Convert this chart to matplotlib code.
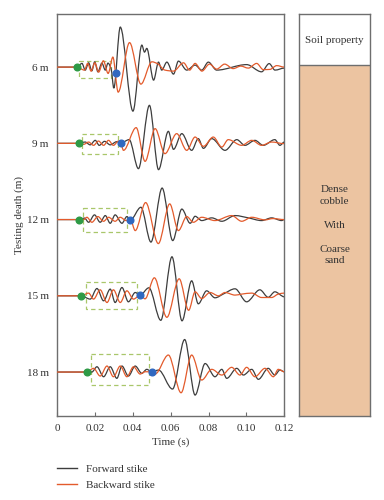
import matplotlib
matplotlib.use("Agg")
import matplotlib.pyplot as plt
from matplotlib.patches import Rectangle, PathPatch
from matplotlib.path import Path
from matplotlib.lines import Line2D

plt.rcParams['font.family'] = ['Liberation Serif', 'DejaVu Serif']
plt.rcParams['font.size'] = 8

# testing depths (m)
depths = [6, 9, 12, 15, 18]
depth_labels = ['6\u2009m', '9\u2009m', '12\u2009m', '15\u2009m', '18\u2009m']

# waveforms: time (ms), amplitude (arbitrary units)
# forward strike (black)
t6_fwd = [0, 10.5, 13.2, 14.9, 16.7, 18.4, 19.9, 21.6, 23.7, 25.5, 26.9, 28.6, 30.0, 33.4, 40.1, 44.8, 46.2, 47.4,
          51.0, 53.6, 55.3, 58.0, 61.5, 64.1, 68.5, 72.9, 76.4, 79.9, 84.3, 100.1, 108.0,
          112.0, 115.1, 120]
a6_fwd = [0, 0, 3.7, -3, 4.3, -3.7, 5.3, -4.7, 4, -3, 4, -2, -21, 40, -44, 22, 15, 18.7,
          -13, 5, -3, 5, -7, 6, -3, 2, -3, 5, -3, 2.5, -4.7,
          3.5, -3, -1]
t9_fwd = [0, 11.4, 14.9, 17.5, 20.2, 22.3, 25.1, 28.1, 31.6, 33.7, 38.1, 43.0, 48.8, 53.6, 58.8, 61.5, 65.9, 71.1,
          74.6, 77.3, 81.7, 88.7, 94.9, 99.2, 104.5, 108.9, 115.0, 117.7, 120]
a9_fwd = [0, 0, 1.3, -1.5, 3, -2, 2, -1.5, 1.7, 0.3, 3.7, -25.3, 38, -26.3, 12, -6, 9.7, -7,
          4.7, -5, 4.7, -7, 3.7, -2, 3, -2, 3.7, -2, 1.3]
t12_fwd = [0, 11.8, 14.5, 16.7, 19.8, 22.8, 25.5, 28.1, 30.7, 34.3, 36.9, 38.8, 44.3, 49.6, 55.5, 61.1, 65.9, 70.3,
           72.9, 76.4, 81.7, 87.0, 94.0, 101.0, 108.0, 113.3, 118.6, 120]
a12_fwd = [0, 0, 1.5, -2.7, 4.7, -2.7, 4, -3.7, 4.7, -3.7, 3, -0.3, 12.3, -22.5, 31.5, -21, 10.5, -3.7,
           3.3, -1, 1.7, -1.7, 4, 1.7, -1, 1.7, -1, 0]
t15_fwd = [0, 12.8, 17.5, 21.1, 24.6, 28.1, 30.7, 34.3, 37.7, 41.3, 43.9, 48.5, 54.8, 60.7, 66.0, 71.1, 74.6, 79.0,
           83.4, 88.0, 94.0, 100.1, 107.1, 111.5, 115.0, 120]
a15_fwd = [0, 0, -3.3, 7.3, -5, 6.7, -6.7, 8.3, -6, 3.3, 0.7, 8, -24.5, 39, -25, 15, -8, 5,
           -2, 2, 7, -6, 6, -1.5, 4, -1]
t18_fwd = [0, 15.8, 18.4, 21.1, 24.6, 28.1, 31.6, 34.3, 37.7, 41.3, 44.8, 47.4, 50.2, 53.6, 61.0, 67.4, 72.9, 78.2,
           83.4, 87.0, 89.6, 94.9, 98.4, 102.8, 106.3, 111.5, 115.0, 117.7, 120]
a18_fwd = [0, 0, 0, 5.3, -4.7, 5.3, -6.3, 6, -4, 6, -1.3, 2.7, 0, 2, -17, 32.5, -23, 8.5,
           -4.7, 2.7, -6.3, 3.7, -3, 2.7, -7.3, 3.7, -3, 2, 0.3]

# backward strike (orange)
t6_bwd = [0, 10.5, 14.5, 16.2, 18.0, 20.0, 22.0, 24.5, 27.0, 29.5, 32.3, 38.3, 44.3, 50.1, 53.0, 57.0, 61.5, 66.8,
          70.0, 72.9, 76.5, 80.5, 84.3, 88.5, 93.0, 97.0, 101.0, 105.4, 108.9, 112.4, 116.0, 120]
a6_bwd = [0, 0, -3, 3.7, -4, 4.3, -5, 6.3, -6.3, 10, -25, 24.5, -17, 5.3, 3.5, -3, -4, 4.3,
          -3, 3.7, -4, 3, -2, 3, -1.5, 1, -1, 3.7, -2.5, -2.3, 1.5, 0]
t9_bwd = [0, 11.4, 14.1, 16.7, 19.3, 21.9, 24.6, 27.2, 29.8, 32.5, 33.7, 35.1, 41.8, 46.5, 51.8, 57.0, 63.2, 68.5,
          72.9, 77.3, 82.5, 87.0, 90.4, 97.5, 102.8, 108.0, 113.3, 120]
a9_bwd = [0, 0, -1, 1.3, -2, 2.3, -2, 3, -2, 2.3, 0.3, -7, 15.7, -18, 14.7, -10.3, 9.7, -7,
          6.3, -3, 6.3, -3.7, 3.7, -2, 3, -2, 1.3, -0.3]
t12_bwd = [0, 11.8, 14.1, 15.8, 18.4, 21.6, 24.6, 27.2, 30.7, 33.4, 36.5, 38.8, 41.3, 46.8, 53.5, 59.5, 64.1, 68.5,
           72.0, 76.4, 83.4, 92.2, 97.5, 102.8, 109.8, 114.0, 120]
a12_bwd = [0, 0, 0, 2.3, -2.7, 3, -1.7, 2.3, -1.7, 2.3, -1, -0.3, -11, 17, -24, 15.7, -11, 3,
           -2.7, 2.3, -1, 4, -1.7, 2.3, -0.3, 1, 0]
t15_bwd = [0, 12.8, 16.7, 19.3, 22.8, 26.4, 29.8, 33.4, 36.9, 40.4, 43.9, 46.5, 51.4, 58.0, 64.5, 69.5, 72.9, 76.4,
           80.8, 85.2, 88.7, 94.0, 97.5, 102.8, 108.0, 113.3, 116.8, 120]
a15_bwd = [0, 0, 2.7, -3.3, 6, -6.7, 6, -6.7, 5, -3.3, 0.7, -3, 18, -21.5, 17, -14.5, 4, -2.7,
           3.3, 0, 3.3, 0.7, 1.7, 2.7, -1.7, -1.7, 1.7, 2.7]
t18_bwd = [0, 15.8, 19.3, 22.8, 26.4, 29.8, 33.4, 36.9, 40.4, 43.9, 46.5, 50.2, 51.8, 58.8, 65.5, 71.1, 76.4, 81.7,
           87.0, 92.2, 96.6, 100.1, 104.5, 109.8, 114.2, 116.8, 120]
a18_bwd = [0, 0, 3.7, -4, 6, -4.7, 6, -4.7, 5.3, -2, 0.3, 0, -2, 17, -20.7, 17, -8, 2.7,
           -3, 4.7, -3, 4.7, -4.7, 3.7, -4.7, 2.7, 0.3]

# picked arrivals (ms, amplitude)
green_t = [10.5, 11.4, 11.8, 12.8, 15.8]
green_a = [0, 0, 0, 0, 0]
blue_t = [31.1, 33.7, 38.8, 43.9, 50.2]
blue_a = [-6.3, 0.3, -0.3, 0.7, 0]

# dashed windows: start/end (ms), top/bottom (amplitude)
box_t0 = [11.8, 13.2, 13.7, 15.3, 17.9]
box_t1 = [28.6, 32.0, 37.2, 42.2, 48.6]
box_top = [6.3, 9.7, 11.7, 14.0, 17.7]
box_bot = [-10.7, -10.3, -12.0, -13.3, -13.3]

fwd_t = [t6_fwd, t9_fwd, t12_fwd, t15_fwd, t18_fwd]
fwd_a = [a6_fwd, a9_fwd, a12_fwd, a15_fwd, a18_fwd]
bwd_t = [t6_bwd, t9_bwd, t12_bwd, t15_bwd, t18_bwd]
bwd_a = [a6_bwd, a9_bwd, a12_bwd, a15_bwd, a18_bwd]

AMP_PER_M = 25.4   # amplitude units per metre of depth axis
c_fwd = '#3d3d3d'
c_bwd = '#e35b2c'
c_edge = '#6e6e6e'


def to_axes(depth, t, a):
    return (t / 1000, depth - a / AMP_PER_M)


def trace_path(depth, ts, amps):
    # smooth bezier through the read points (flat tangent at peaks)
    n = len(ts)
    d = [(amps[k + 1] - amps[k]) / (ts[k + 1] - ts[k]) for k in range(n - 1)]
    m = [0.0] * n
    for k in range(1, n - 1):
        if d[k - 1] * d[k] > 0:
            h0 = ts[k] - ts[k - 1]
            h1 = ts[k + 1] - ts[k]
            w1 = 2 * h1 + h0
            w2 = h1 + 2 * h0
            m[k] = (w1 + w2) / (w1 / d[k - 1] + w2 / d[k])
    verts = [to_axes(depth, ts[0], amps[0])]
    codes = [Path.MOVETO]
    for k in range(n - 1):
        h = ts[k + 1] - ts[k]
        verts.append(to_axes(depth, ts[k] + h / 3, amps[k] + m[k] * h / 3))
        verts.append(to_axes(depth, ts[k + 1] - h / 3, amps[k + 1] - m[k + 1] * h / 3))
        verts.append(to_axes(depth, ts[k + 1], amps[k + 1]))
        codes += [Path.CURVE4] * 3
    return Path(verts, codes)


fig = plt.figure(figsize=(3.84, 5.0), dpi=100)
ax = fig.add_axes([0.1484, 0.168, 0.592, 0.804])

for i, dep in enumerate(depths):
    x0 = box_t0[i] / 1000
    w = (box_t1[i] - box_t0[i]) / 1000
    y0 = dep - box_top[i] / AMP_PER_M
    h = (box_top[i] - box_bot[i]) / AMP_PER_M
    ax.add_patch(Rectangle((x0, y0), w, h, fill=False, ec='#a9c76a', lw=0.9, ls=(0, (3.5, 2.5)), zorder=1))
    ax.add_patch(PathPatch(trace_path(dep, fwd_t[i], fwd_a[i]), fill=False, ec=c_fwd, lw=0.9, zorder=2))
    ax.add_patch(PathPatch(trace_path(dep, bwd_t[i], bwd_a[i]), fill=False, ec=c_bwd, lw=0.9, zorder=3))
    gx, gy = to_axes(dep, green_t[i], green_a[i])
    bx, by = to_axes(dep, blue_t[i], blue_a[i])
    ax.plot(gx, gy, 'o', ms=4.8, color='#2e9a46', zorder=4)
    ax.plot(bx, by, 'o', ms=4.8, color='#3068c0', zorder=4)

ax.set_xlim(0, 0.12)
ax.set_ylim(19.73, 3.91)
ax.set_xticks([0, 0.02, 0.04, 0.06, 0.08, 0.10, 0.12])
ax.set_xticklabels(['0', '0.02', '0.04', '0.06', '0.08', '0.10', '0.12'])
ax.set_yticks(depths)
ax.set_yticklabels(depth_labels)
ax.tick_params(axis='x', direction='in', length=3, width=0.8, color=c_edge, pad=6, labelcolor='#333333')
ax.tick_params(axis='y', length=0, pad=6, labelcolor='#333333')
for s in ax.spines.values():
    s.set_color(c_edge)
    s.set_linewidth(1.0)
ax.set_xlabel('Time (s)', color='#333333', labelpad=3)
ax.set_ylabel('Testing death (m)', color='#333333', labelpad=2)

# soil column on the right
ax2 = fig.add_axes([0.7794, 0.168, 0.184, 0.804])
ax2.set_xlim(0, 1)
ax2.set_ylim(0, 1)
ax2.set_xticks([])
ax2.set_yticks([])
ax2.add_patch(Rectangle((0, 0), 1, 0.873, color='#ecc4a1', lw=0))
ax2.axhline(0.873, color=c_edge, lw=1.0)
for s in ax2.spines.values():
    s.set_color(c_edge)
    s.set_linewidth(1.0)
ax2.text(0.5, 0.933, 'Soil property', ha='center', va='center', color='#333333')
ax2.text(0.5, 0.549, 'Dense\ncobble', ha='center', va='center', color='#333333', linespacing=1.35)
ax2.text(0.5, 0.473, 'With', ha='center', va='center', color='#333333')
ax2.text(0.5, 0.400, 'Coarse\nsand', ha='center', va='center', color='#333333', linespacing=1.35)

handles = [Line2D([], [], color=c_fwd, lw=1.0), Line2D([], [], color=c_bwd, lw=1.0)]
fig.legend(handles, ['Forward stike', 'Backward stike'], loc='upper left',
           bbox_to_anchor=(0.1484, 0.071), frameon=False, handlelength=1.8, handletextpad=0.8,
           labelspacing=0.55, borderpad=0, borderaxespad=0, labelcolor='#333333')

fig.savefig('out.png', dpi=100)
